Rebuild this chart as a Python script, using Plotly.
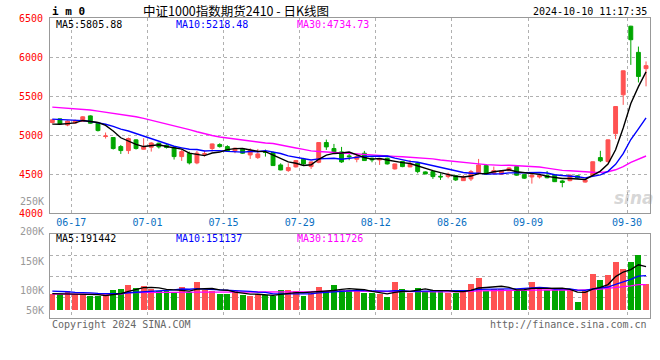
import plotly.graph_objects as go
import pandas as pd

# ---------------- data ----------------
holidays = ["2024-09-16", "2024-09-17", "2024-10-01", "2024-10-02",
            "2024-10-03", "2024-10-04", "2024-10-07"]
dates = [d.strftime("%Y-%m-%d") for d in pd.bdate_range("2024-06-13", "2024-10-10")
         if d.strftime("%Y-%m-%d") not in holidays]

opens = [5162, 5209, 5130, 5155, 5175, 5247, 5153, 4983, 4970, 4854,
         4803, 4940, 4820, 4845, 4897, 4871, 4843, 4726, 4765, 4645,
         4755, 4829, 4880, 4854, 4799, 4820, 4747, 4713, 4785, 4777,
         4619, 4547, 4594, 4692, 4598, 4653, 4906, 4829, 4786, 4735,
         4692, 4769, 4705, 4683, 4705, 4568, 4662, 4594, 4641, 4530,
         4534, 4474, 4470, 4480, 4418, 4440, 4512, 4611, 4512, 4500,
         4545, 4598, 4495, 4465, 4465, 4485, 4488, 4414, 4418, 4480,
         4400, 4482, 4713, 4662, 5020, 5517, 6395, 6060, 5852]
highs = [5205, 5213, 5190, 5200, 5245, 5255, 5166, 5034, 4975, 4875,
         4970, 4948, 4961, 4910, 4905, 4884, 4858, 4811, 4790, 4799,
         4803, 4893, 4897, 4871, 4841, 4833, 4833, 4824, 4816, 4790,
         4640, 4640, 4683, 4709, 4662, 4906, 4944, 4888, 4850, 4770,
         4769, 4799, 4713, 4705, 4713, 4636, 4670, 4683, 4653, 4538,
         4555, 4512, 4521, 4491, 4491, 4555, 4696, 4628, 4598, 4552,
         4590, 4603, 4500, 4495, 4505, 4542, 4495, 4425, 4500, 4487,
         4435, 4662, 4800, 4945, 5370, 5828, 6400, 6134, 5944]
lows = [5150, 5140, 5115, 5150, 5170, 5145, 5047, 4957, 4816, 4760,
        4760, 4816, 4816, 4790, 4829, 4829, 4688, 4671, 4625, 4628,
        4726, 4790, 4841, 4790, 4769, 4760, 4696, 4696, 4726, 4606,
        4551, 4530, 4585, 4619, 4568, 4641, 4811, 4777, 4645, 4680,
        4653, 4671, 4653, 4619, 4624, 4560, 4590, 4590, 4512, 4500,
        4440, 4427, 4448, 4414, 4414, 4414, 4500, 4491, 4491, 4490,
        4540, 4480, 4440, 4380, 4445, 4448, 4400, 4333, 4410, 4445,
        4392, 4478, 4655, 4650, 4950, 5388, 5900, 5675, 5625]
closes = [5196, 5145, 5180, 5187, 5235, 5153, 5059, 4990, 4829, 4803,
          4957, 4829, 4854, 4900, 4850, 4843, 4726, 4790, 4645, 4770,
          4763, 4888, 4854, 4799, 4833, 4769, 4807, 4760, 4780, 4611,
          4555, 4585, 4675, 4632, 4658, 4906, 4850, 4786, 4658, 4725,
          4726, 4675, 4683, 4696, 4632, 4632, 4598, 4628, 4534, 4504,
          4470, 4466, 4500, 4427, 4457, 4534, 4619, 4500, 4547, 4543,
          4580, 4488, 4450, 4488, 4483, 4455, 4405, 4395, 4488, 4452,
          4427, 4660, 4672, 4940, 5367, 5824, 6222, 5752, 5890]
volumes = [70700, 70700, 82300, 70700, 70700, 62000, 60600, 64900, 89500, 93800,
           111100, 98100, 106800, 93800, 82300, 82300, 79400, 102500, 79400, 124100,
           89500, 85100, 72200, 72200, 82300, 67800, 63500, 70700, 64900, 63500,
           89500, 89500, 85100, 63500, 75000, 102500, 85100, 111100, 89500, 89500,
           89500, 75000, 75000, 70700, 56300, 121200, 93800, 75000, 98100, 82300,
           89500, 89500, 75000, 75000, 85100, 115400, 141400, 85100, 93800, 93800,
           89500, 89500, 89500, 121200, 93800, 89500, 89500, 93800, 93800, 37500,
           82300, 158700, 132800, 154400, 210700, 180400, 210700, 238100, 115400]

# moving-average values at the left edge (they depend on days before the window)
ma5_head = [5142, 5140, 5148, 5158]
ma10_head = [5205, 5202, 5198, 5192, 5186, 5176, 5160, 5140, 5112]
ma30_head = [5359, 5352, 5346, 5340, 5333, 5322, 5308, 5294, 5281, 5268,
             5252, 5236, 5216, 5193, 5170, 5147, 5122, 5097, 5071, 5044,
             5018, 4996, 4976, 4962, 4950, 4937, 4925, 4912, 4900]
vma5_head = [74000, 73000, 72500, 72500]
vma10_head = [85100, 85100, 82000, 79400, 79400, 77000, 75000, 75000, 74500]
vma30_head = [72200, 72200, 72200, 72200, 72200, 72200, 72200, 72200, 72200, 72200,
              78000, 78500, 79000, 79400, 79400, 79400, 79400, 79600, 79800, 80000,
              80000, 80200, 80200, 80400, 80400, 80500, 80600, 80700, 80800]

ma_labels = ["MA5:5805.88", "MA10:5218.48", "MA30:4734.73"]
vma_labels = ["MA5:191442", "MA10:151137", "MA30:111726"]

tick_dates = ["2024-06-17", "2024-07-01", "2024-07-15", "2024-07-29",
              "2024-08-12", "2024-08-26", "2024-09-09", "2024-09-30"]
tick_labels = ["06-17", "07-01", "07-15", "07-29", "08-12", "08-26", "09-09", "09-30"]
price_ticks = [4000, 4500, 5000, 5500, 6000, 6500]
vol_label_text = ["250K", "200K", "150K", "100K", "50K"]

# ---------------- helpers ----------------
def ma(values, n, head):
    s = pd.Series(values, dtype=float).rolling(n).mean().tolist()
    return list(head) + s[n - 1:]

ma5 = ma(closes, 5, ma5_head)
ma10 = ma(closes, 10, ma10_head)
ma30 = ma(closes, 30, ma30_head)
vma5 = ma(volumes, 5, vma5_head)
vma10 = ma(volumes, 10, vma10_head)
vma30 = ma(volumes, 30, vma30_head)

RED = "#ff5252"
GREEN = "#00a600"
GRAY = "#999999"
GRID = "#b0b0b0"
MONO = "DejaVu Sans Mono"
XBLUE = "#0a6fc2"

W, H = 660, 360
ML, MR, MT, MB = 50, 10, 18, 42
PW, PH = W - ML - MR, H - MT - MB

def px_x(p):
    return (p - ML) / PW

def px_y(p):
    return (H - MB - p) / PH

x = list(range(len(dates)))
xr = [-0.302, 78.52]
tickpos = [dates.index(d) + 0.5 for d in tick_dates]
vr = [-31600, 330800]
vgrid = [vr[0] + k * (vr[1] - vr[0]) / 4 for k in (1, 2, 3)]

fig = go.Figure()
fig.add_trace(go.Candlestick(
    x=x, open=opens, high=highs, low=lows, close=closes,
    increasing=dict(line=dict(color=RED, width=1), fillcolor=RED),
    decreasing=dict(line=dict(color=GREEN, width=1), fillcolor=GREEN),
    whiskerwidth=0, xaxis="x", yaxis="y", hoverinfo="skip", showlegend=False))
for vals, col in [(ma30, "#ff00ff"), (ma10, "#0000ff"), (ma5, "#000000")]:
    fig.add_trace(go.Scatter(x=x, y=vals, mode="lines", line=dict(color=col, width=1.4),
                             xaxis="x", yaxis="y", hoverinfo="skip", showlegend=False))

vol_colors = [RED if c >= o else GREEN for o, c in zip(opens, closes)]
fig.add_trace(go.Bar(x=x, y=volumes, width=0.78,
                     marker=dict(color=vol_colors, line=dict(width=0)),
                     xaxis="x2", yaxis="y2", hoverinfo="skip", showlegend=False))
for vals, col in [(vma30, "#ff00ff"), (vma10, "#0000ff"), (vma5, "#000000")]:
    fig.add_trace(go.Scatter(x=x, y=vals, mode="lines", line=dict(color=col, width=1.3),
                             xaxis="x2", yaxis="y2", hoverinfo="skip", showlegend=False))

main_bottom = px_y(213.3)
vol_top = px_y(234.3)

common_x = dict(range=xr, showgrid=True, gridcolor=GRID, griddash="dot", gridwidth=1,
                showline=True, linecolor=GRAY, linewidth=1, mirror=True, ticks="",
                zeroline=False, tickmode="array", tickvals=tickpos, automargin=False)
fig.update_layout(
    template="none",
    width=W, height=H, margin=dict(l=ML, r=MR, t=MT, b=MB, autoexpand=False),
    paper_bgcolor="white", plot_bgcolor="white", showlegend=False,
    boxgap=0.27, bargap=0, hovermode=False,
    xaxis=dict(**common_x, domain=[0, 1], anchor="y", ticktext=tick_labels,
               tickfont=dict(family=MONO, size=10, color=XBLUE),
               rangeslider=dict(visible=False)),
    yaxis=dict(domain=[main_bottom, 1], range=[4000, 6500], tickmode="array",
               tickvals=price_ticks, ticktext=[str(v) for v in price_ticks],
               tickfont=dict(family=MONO, size=10, color="#ff0000"),
               showgrid=True, gridcolor=GRID, griddash="dot", gridwidth=1,
               showline=True, linecolor=GRAY, linewidth=1, mirror=True,
               ticks="", zeroline=False, ticklabelstandoff=4, anchor="x",
               automargin=False),
    xaxis2=dict(**common_x, domain=[0, 1], anchor="y2", showticklabels=False),
    yaxis2=dict(domain=[0, vol_top], range=vr, tickmode="array", tickvals=vgrid,
                showticklabels=False, showgrid=True, gridcolor=GRID, griddash="dot",
                gridwidth=1, showline=True, linecolor=GRAY, linewidth=1, mirror=True,
                ticks="", zeroline=False, anchor="x2", automargin=False),
)

ann = []
def text(s, xp, yp, color="#000", size=10, anchor="left", family=MONO, **kw):
    ann.append(dict(text=s, x=px_x(xp), y=px_y(yp), xref="paper", yref="paper",
                    xanchor=anchor, yanchor="middle", showarrow=False,
                    font=dict(family=family, size=size, color=color), **kw))

# header
text("<b>i m 0</b>", 50, 11.5, size=11)
text("中证1000指数期货2410 - 日K线图", 236, 10, size=12.5, anchor="center",
     family="Noto Sans CJK SC")
text("2024-10-10 11:17:35", 649, 11.5, anchor="right")
# MA legends
for s, xp, col in zip(ma_labels, [54, 174, 294.5], ["#000000", "#0000ff", "#ff00ff"]):
    text(s, xp, 24.5, color=col)
for s, xp, col in zip(vma_labels, [54, 174, 294.5], ["#000000", "#0000ff", "#ff00ff"]):
    text(s, xp, 238.5, color=col)
# volume axis labels
for s, yp in zip(vol_label_text, [201, 231, 261, 290, 310]):
    text(s, 46, yp, color=GRAY, anchor="right")
# footer
text("Copyright 2024 SINA.COM", 50, 324, color="#666666")
text("http://finance.sina.com.cn", 649, 324, color="#666666", anchor="right")
# watermark
text("<b><i>sina</i></b>", 634, 198, color="rgba(150,150,150,0.4)", size=17,
     anchor="center", family="DejaVu Sans")

fig.update_layout(annotations=ann)
fig.write_html("out.html", config={"displayModeBar": False},
               post_script="document.body.style.margin='0';document.body.style.padding='0';")
